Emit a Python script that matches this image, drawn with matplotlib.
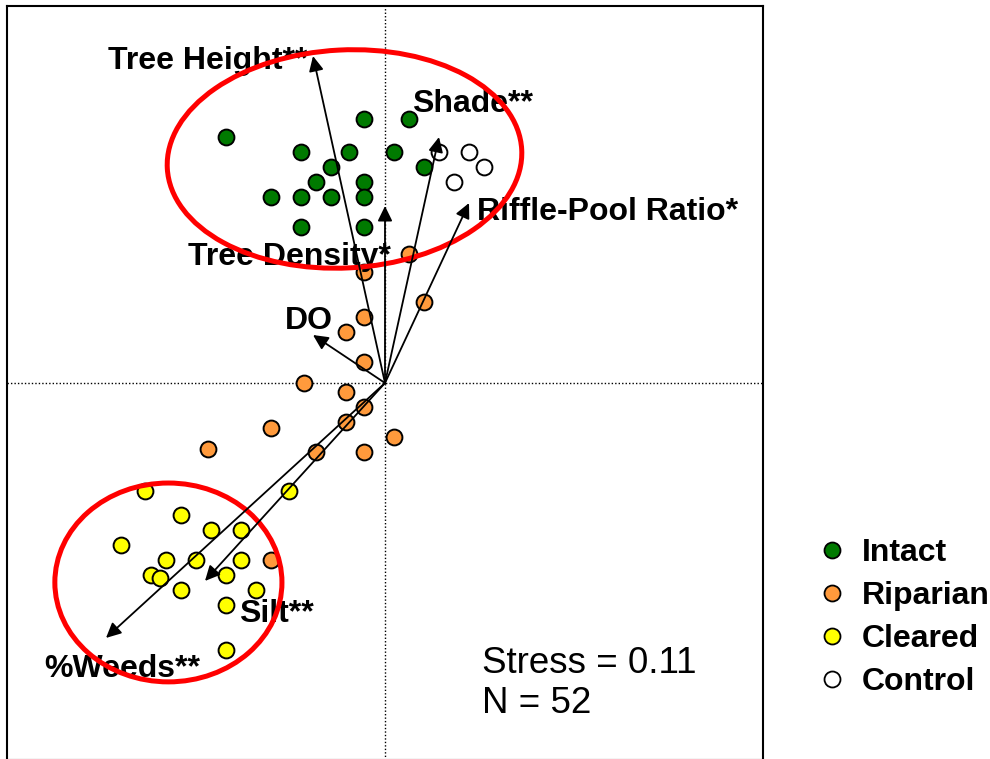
import numpy as np
import matplotlib.pyplot as plt
from matplotlib.patches import Ellipse
from matplotlib.lines import Line2D

plt.rcParams['font.family'] = ['Liberation Sans', 'DejaVu Sans']

# NMDS site scores by group
intact_x = [-0.53, -0.07, 0.08, -0.28, -0.12, 0.03, -0.18, 0.13, -0.23, -0.07,
            -0.38, -0.28, -0.18, -0.07, -0.28, -0.07]
intact_y = [0.82, 0.88, 0.88, 0.77, 0.77, 0.77, 0.72, 0.72, 0.67, 0.67,
            0.62, 0.62, 0.62, 0.62, 0.52, 0.52]

riparian_x = [0.08, -0.07, 0.13, -0.07, -0.13, -0.07, -0.27, -0.13, -0.07, -0.13,
              -0.38, 0.03, -0.59, -0.23, -0.07, -0.38]
riparian_y = [0.43, 0.37, 0.27, 0.22, 0.17, 0.07, 0.00, -0.03, -0.08, -0.13,
              -0.15, -0.18, -0.22, -0.23, -0.23, -0.59]

cleared_x = [-0.80, -0.68, -0.58, -0.48, -0.32, -0.88, -0.73, -0.63, -0.48, -0.78,
             -0.75, -0.53, -0.68, -0.43, -0.53, -0.53]
cleared_y = [-0.36, -0.44, -0.49, -0.49, -0.36, -0.54, -0.59, -0.59, -0.59, -0.64,
             -0.65, -0.64, -0.69, -0.69, -0.74, -0.89]

control_x = [0.18, 0.28, 0.33, 0.23]
control_y = [0.77, 0.77, 0.72, 0.67]

# environmental vectors
vec_names = ['Tree Height**', 'Shade**', 'Riffle-Pool Ratio*', 'Tree Density*',
             'DO', '%Weeds**', 'Silt**']
vec_x = [-0.24, 0.18, 0.28, 0.00, -0.24, -0.93, -0.60]
vec_y = [1.09, 0.82, 0.60, 0.59, 0.16, -0.85, -0.66]

stress = 0.11
n_sites = 52

# label anchor points (left, baseline)
label_pos = [(-0.923, 1.047), (0.09, 0.903), (0.307, 0.543), (-0.657, 0.393),
             (-0.333, 0.18), (-1.137, -0.98), (-0.487, -0.797)]

fig = plt.figure(figsize=(9.9, 7.59), dpi=100)
ax = fig.add_axes([7 / 990, -1 / 759, 756 / 990, 754 / 759])
ax.set_xlim(-1.26, 1.26)
ax.set_ylim(-1.257, 1.257)
ax.set_xticks([])
ax.set_yticks([])
for sp in ax.spines.values():
    sp.set_linewidth(1.5)

ax.axhline(0, color='black', lw=1, ls=(0, (1, 1.5)), zorder=1)
ax.axvline(0, color='black', lw=1, ls=(0, (1, 1.5)), zorder=1)

groups = [
    ('Intact', intact_x, intact_y, '#007A00'),
    ('Riparian', riparian_x, riparian_y, '#FF9A3C'),
    ('Cleared', cleared_x, cleared_y, '#FFFF00'),
    ('Control', control_x, control_y, 'white'),
]
for name, gx, gy, col in groups:
    ax.scatter(gx, gy, s=130, c=col, edgecolors='black', linewidths=1.4, zorder=2)

for name, (lx, ly) in zip(vec_names, label_pos):
    ax.text(lx, ly, name, fontsize=23, fontweight='bold', ha='left', va='baseline', zorder=3)

# red group outlines
ax.add_patch(Ellipse((-0.135, 0.747), 1.183, 0.727, angle=3, fill=False,
                     edgecolor='red', lw=3.6, zorder=4))
ax.add_patch(Ellipse((-0.722, -0.665), 0.757, 0.663, angle=0, fill=False,
                     edgecolor='red', lw=3.6, zorder=4))

for vx, vy in zip(vec_x, vec_y):
    ax.annotate('', xy=(vx, vy), xytext=(0, 0),
                arrowprops=dict(arrowstyle='-|>,head_length=0.45,head_width=0.22',
                                color='black', lw=1.3, mutation_scale=20,
                                shrinkA=0, shrinkB=0),
                zorder=5)

fig.text(482 / 990, 1 - 673 / 759, f'Stress = {stress}', fontsize=26.5, ha='left', va='baseline')
fig.text(482 / 990, 1 - 713 / 759, f'N = {n_sites}', fontsize=26.5, ha='left', va='baseline')

handles = [Line2D([], [], ls='none', marker='o', markersize=11.5, markerfacecolor=col,
                  markeredgecolor='black', markeredgewidth=1.3, label=name)
           for name, gx, gy, col in groups]
fig.legend(handles=handles, loc='upper left', bbox_to_anchor=(816 / 990, 1 - 538 / 759),
           bbox_transform=fig.transFigure, frameon=False,
           prop={'size': 23, 'weight': 'bold'}, handlelength=1, handletextpad=0.44,
           labelspacing=0.41, borderpad=0, borderaxespad=0)

fig.savefig('out.png', dpi=100)
